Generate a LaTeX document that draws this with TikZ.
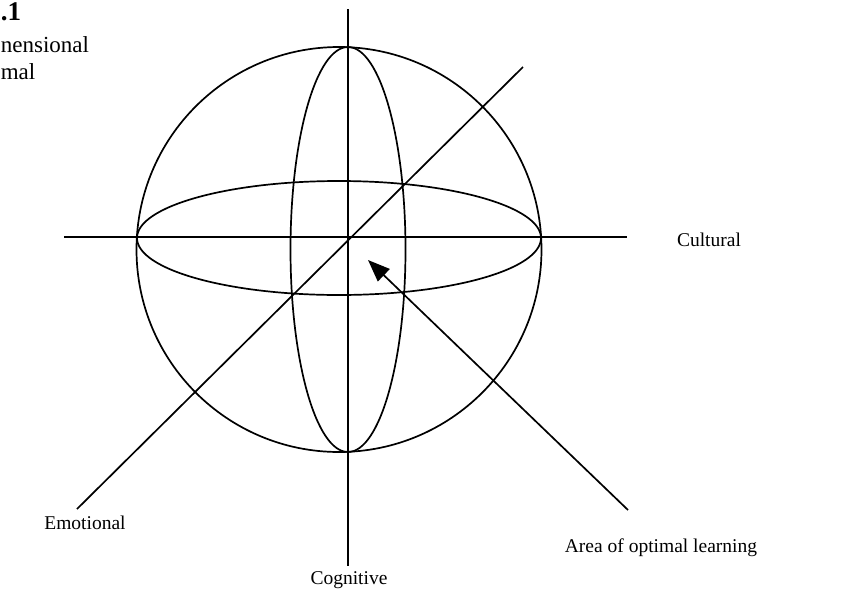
\documentclass[tikz,border=0pt]{standalone}
\usepackage{fontspec}
\setmainfont{Liberation Serif}
\usetikzlibrary{arrows.meta}
\begin{document}
\begin{tikzpicture}[x=1pt,y=-1pt, line width=1.7pt,
  lbl/.style={font=\fontsize{19.5}{22}\selectfont, inner sep=0pt},
  side/.style={font=\fontsize{23}{26}\selectfont, inner sep=0pt, anchor=west},
  pointer/.style={-{Triangle[length=22pt,width=17pt]}, line width=1.7pt}]
\useasboundingbox (0,0) rectangle (855,598);
% sphere
\draw (339,249.5) circle (202.5pt);
\draw (339,238) ellipse (202pt and 57pt);
\draw (348,249.5) ellipse (57.5pt and 202.5pt);
% axes
\coordinate (hL) at (64,237);
\coordinate (hR) at (627,237);
\coordinate (vT) at (348,9);
\coordinate (vB) at (348,566);
\coordinate (dA) at (77,509);
\coordinate (dB) at (523,67);
\draw (hL) -- (hR);
\draw (vT) -- (vB);
\draw (dA) -- (dB);
% arrow
\coordinate (aTail) at (628,510);
\coordinate (aTip) at (368,260);
\draw[pointer] (aTail) -- (aTip);
% labels
\node[lbl] (cultural) at (709,240) {Cultural};
\node[lbl] (emotional) at (85,523) {Emotional};
\node[lbl] (cognitive) at (349,580) {Cognitive};
\node[lbl] (area) at (661,548) {Area of optimal learning};
% cut-off caption
\node[side, font=\fontsize{27}{29}\selectfont\bfseries] (fig) at (0,12) {.1};
\node[side] (cap1) at (0,45) {nensional};
\node[side] (cap2) at (0,72) {mal};
\end{tikzpicture}
\end{document}
